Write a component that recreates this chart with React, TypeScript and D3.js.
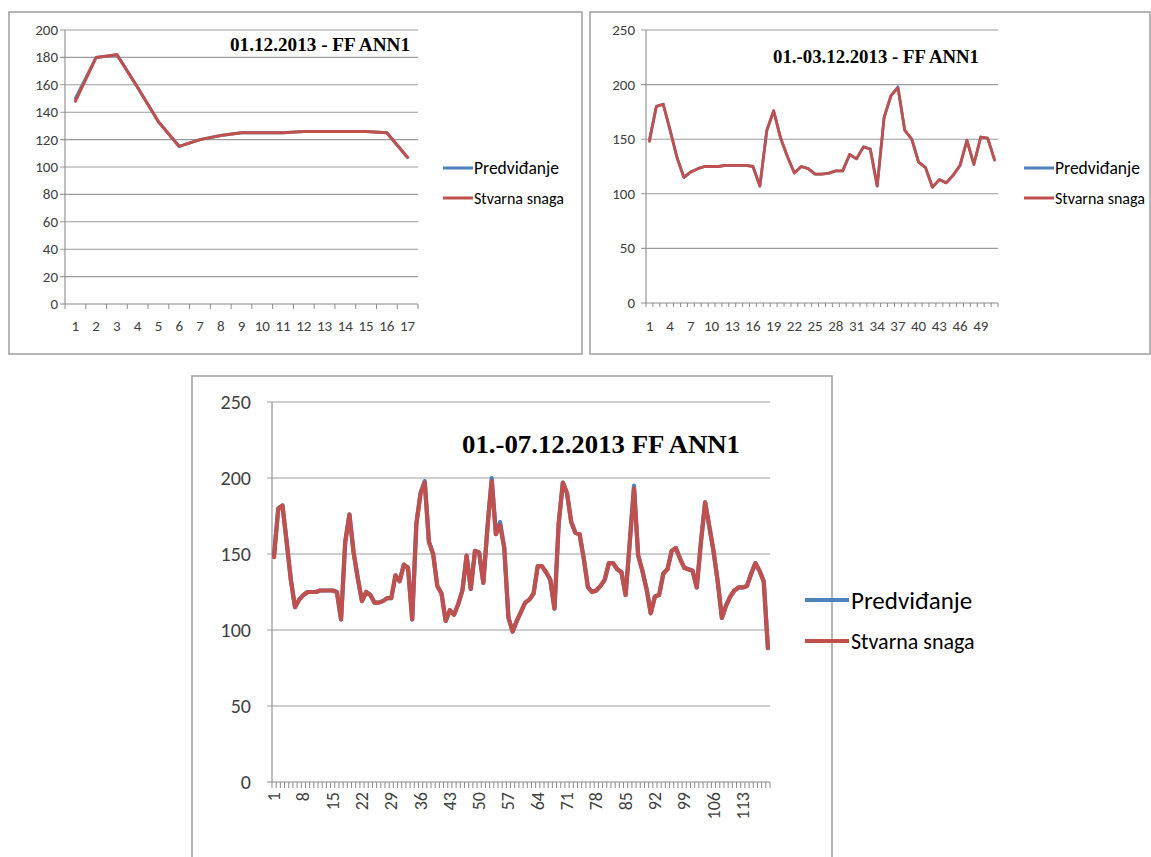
import React from "react";
import * as d3 from "d3";

// Stvarna snaga (actual power), hourly points 1..119 over 01.-07.12.2013
const actual: number[] = [
  148, 180, 182, 158, 133, 115, 120, 123, 125, 125, 125, 126, 126, 126, 126, 125, 107,
  158, 176, 151, 134, 119, 125, 123, 118, 118, 119, 121, 121, 136, 132, 143, 141, 107,
  170, 190, 197, 158, 150, 129, 124, 106, 113, 110, 117, 126, 149, 127, 152, 151, 131,
  168, 198, 163, 169, 154, 108, 99, 106, 112, 118, 120, 124, 142, 142, 138, 133, 114,
  170, 197, 190, 171, 164, 163, 147, 128, 125, 126, 129, 133, 144, 144, 140, 138, 123,
  158, 193, 149, 139, 127, 111, 122, 123, 137, 140, 152, 154, 147, 141, 140, 139, 128,
  158, 184, 168, 152, 132, 108, 116, 122, 126, 128, 128, 129, 137, 144, 139, 132, 88,
];

// Predviđanje (forecast) — almost identical to actual
const predicted: number[] = [
  150, 180, 182, 158, 133, 115, 120, 123, 125, 125, 125, 126, 126, 126, 126, 125, 107,
  158, 176, 151, 134, 119, 125, 123, 118, 118, 119, 121, 121, 136, 132, 143, 141, 107,
  170, 190, 198, 158, 150, 129, 124, 106, 113, 110, 117, 126, 149, 127, 152, 151, 131,
  168, 200, 163, 171, 154, 108, 99, 106, 112, 118, 120, 124, 142, 142, 138, 133, 114,
  170, 197, 190, 171, 164, 163, 147, 128, 125, 126, 129, 133, 144, 144, 140, 138, 123,
  158, 195, 149, 139, 127, 111, 122, 123, 137, 140, 152, 154, 147, 141, 140, 139, 128,
  158, 184, 168, 152, 132, 108, 116, 122, 126, 128, 128, 129, 137, 144, 139, 132, 88,
];

const seriesNames = ["Predviđanje", "Stvarna snaga"];
const seriesColors = ["#4F81BD", "#C0504D"];

const titles = ["01.12.2013 - FF ANN1", "01.-03.12.2013 - FF ANN1", "01.-07.12.2013 FF ANN1"];
const pointCounts = [17, 51, 119];
const yMaxes = [200, 250, 250];
const yStepValues = [20, 50, 50];
const xLabelSteps = [1, 3, 7];

const LABEL_FONT = "Carlito, Lato, 'Open Sans', sans-serif";
const TITLE_FONT = "'Liberation Serif', 'Times New Roman', serif";

type ChartCfg = {
  border: { x: number; y: number; w: number; h: number };
  plot: { left: number; right: number; top: number; bottom: number };
  yLabelX: number;
  yFont: number;
  xFont: number;
  xLabelY: number;
  rotate: boolean;
  tickLen: number;
  lineWidth: number;
  title: { x1: number; x2: number; baseline: number; size: number };
  legend: { x1: number; x2: number; y1: number; y2: number; tx: number; f1: number; f2: number; lw: number };
};

const cfgs: ChartCfg[] = [
  {
    border: { x: 9, y: 12, w: 573, h: 342 },
    plot: { left: 65, right: 418, top: 30, bottom: 304 },
    yLabelX: 58,
    yFont: 15,
    xFont: 15,
    xLabelY: 326,
    rotate: false,
    tickLen: 5,
    lineWidth: 3,
    title: { x1: 230, x2: 410, baseline: 51, size: 18 },
    legend: { x1: 443, x2: 473, y1: 168, y2: 198, tx: 474, f1: 17.5, f2: 16, lw: 3 },
  },
  {
    border: { x: 590, y: 12, w: 560, h: 342 },
    plot: { left: 646, right: 998, top: 30, bottom: 303 },
    yLabelX: 635,
    yFont: 15,
    xFont: 15,
    xLabelY: 326,
    rotate: false,
    tickLen: 4,
    lineWidth: 2.8,
    title: { x1: 773, x2: 979, baseline: 63, size: 19 },
    legend: { x1: 1024, x2: 1054, y1: 168, y2: 198, tx: 1055, f1: 17.5, f2: 16, lw: 3 },
  },
  {
    border: { x: 192, y: 376, w: 640, h: 520 },
    plot: { left: 272, right: 770, top: 402, bottom: 782 },
    yLabelX: 251,
    yFont: 20,
    xFont: 18,
    xLabelY: 792,
    rotate: true,
    tickLen: 6,
    lineWidth: 4.2,
    title: { x1: 462, x2: 740, baseline: 453, size: 26 },
    legend: { x1: 805, x2: 849, y1: 600, y2: 641, tx: 851, f1: 25, f2: 22, lw: 4 },
  },
];

function Chart({ idx }: { idx: number }) {
  const c = cfgs[idx];
  const n = pointCounts[idx];
  const cats = d3.range(1, n + 1);
  const x = d3.scaleBand<number>().domain(cats).range([c.plot.left, c.plot.right]).paddingInner(0).paddingOuter(0);
  const y = d3.scaleLinear().domain([0, yMaxes[idx]]).range([c.plot.bottom, c.plot.top]);
  const yTicks = d3.range(0, yMaxes[idx] + 0.001, yStepValues[idx]);
  const cx = (i: number) => (x(i) as number) + x.bandwidth() / 2;
  const line = d3
    .line<number>()
    .x((_, i) => cx(i + 1))
    .y((d) => y(d));
  const seriesData = [predicted.slice(0, n), actual.slice(0, n)];
  const boundaries = d3.range(0, n + 1).map((k) => c.plot.left + k * x.bandwidth());
  const xLabelCats = cats.filter((v) => (v - 1) % xLabelSteps[idx] === 0);

  return (
    <g>
      <rect x={c.border.x} y={c.border.y} width={c.border.w} height={c.border.h} fill="#fff" stroke="#a3a3a3" strokeWidth={1.6} />
      {yTicks.map((t) => (
        <line key={"g" + t} x1={c.plot.left - 5} x2={c.plot.right} y1={y(t)} y2={y(t)} stroke={t === 0 ? "#8a8a8a" : "#9b9b9b"} strokeWidth={1.1} />
      ))}
      <line x1={c.plot.left} x2={c.plot.left} y1={c.plot.top} y2={c.plot.bottom} stroke="#8a8a8a" strokeWidth={1.1} />
      {boundaries.map((bx, k) => (
        <line key={"t" + k} x1={bx} x2={bx} y1={c.plot.bottom} y2={c.plot.bottom + c.tickLen} stroke="#8a8a8a" strokeWidth={1} />
      ))}
      {yTicks.map((t) => (
        <text key={"yl" + t} x={c.yLabelX} y={y(t)} textAnchor="end" dominantBaseline="central" fontFamily={LABEL_FONT} fontSize={c.yFont} fill="#404040">
          {t}
        </text>
      ))}
      {xLabelCats.map((v) =>
        c.rotate ? (
          <text
            key={"xl" + v}
            transform={`translate(${cx(v)},${c.xLabelY}) rotate(-90)`}
            textAnchor="end"
            dominantBaseline="central"
            fontFamily={LABEL_FONT}
            fontSize={c.xFont}
            fill="#404040"
          >
            {v}
          </text>
        ) : (
          <text key={"xl" + v} x={cx(v)} y={c.xLabelY} textAnchor="middle" dominantBaseline="central" fontFamily={LABEL_FONT} fontSize={c.xFont} fill="#404040">
            {v}
          </text>
        )
      )}
      {seriesData.map((s, k) => (
        <path key={"s" + k} d={line(s) || ""} fill="none" stroke={seriesColors[k]} strokeWidth={c.lineWidth} strokeLinejoin="round" strokeLinecap="round" />
      ))}
      <text
        x={c.title.x1}
        y={c.title.baseline}
        fontFamily={TITLE_FONT}
        fontWeight="bold"
        fontSize={c.title.size}
        fill="#000"
        textLength={c.title.x2 - c.title.x1}
        lengthAdjust="spacingAndGlyphs"
      >
        {titles[idx]}
      </text>
      {[0, 1].map((k) => {
        const ly = k === 0 ? c.legend.y1 : c.legend.y2;
        return (
          <g key={"lg" + k}>
            <line x1={c.legend.x1} x2={c.legend.x2} y1={ly} y2={ly} stroke={seriesColors[k]} strokeWidth={c.legend.lw} />
            <text x={c.legend.tx} y={ly} dominantBaseline="central" fontFamily={LABEL_FONT} fontSize={k === 0 ? c.legend.f1 : c.legend.f2} fill="#000">
              {seriesNames[k]}
            </text>
          </g>
        );
      })}
    </g>
  );
}

export default function App() {
  return (
    <svg width={1151} height={857} style={{ position: "absolute", left: 0, top: 0, display: "block", background: "#fff" }}>
      <rect x={0} y={0} width={1151} height={857} fill="#fff" />
      <Chart idx={0} />
      <Chart idx={1} />
      <Chart idx={2} />
    </svg>
  );
}
